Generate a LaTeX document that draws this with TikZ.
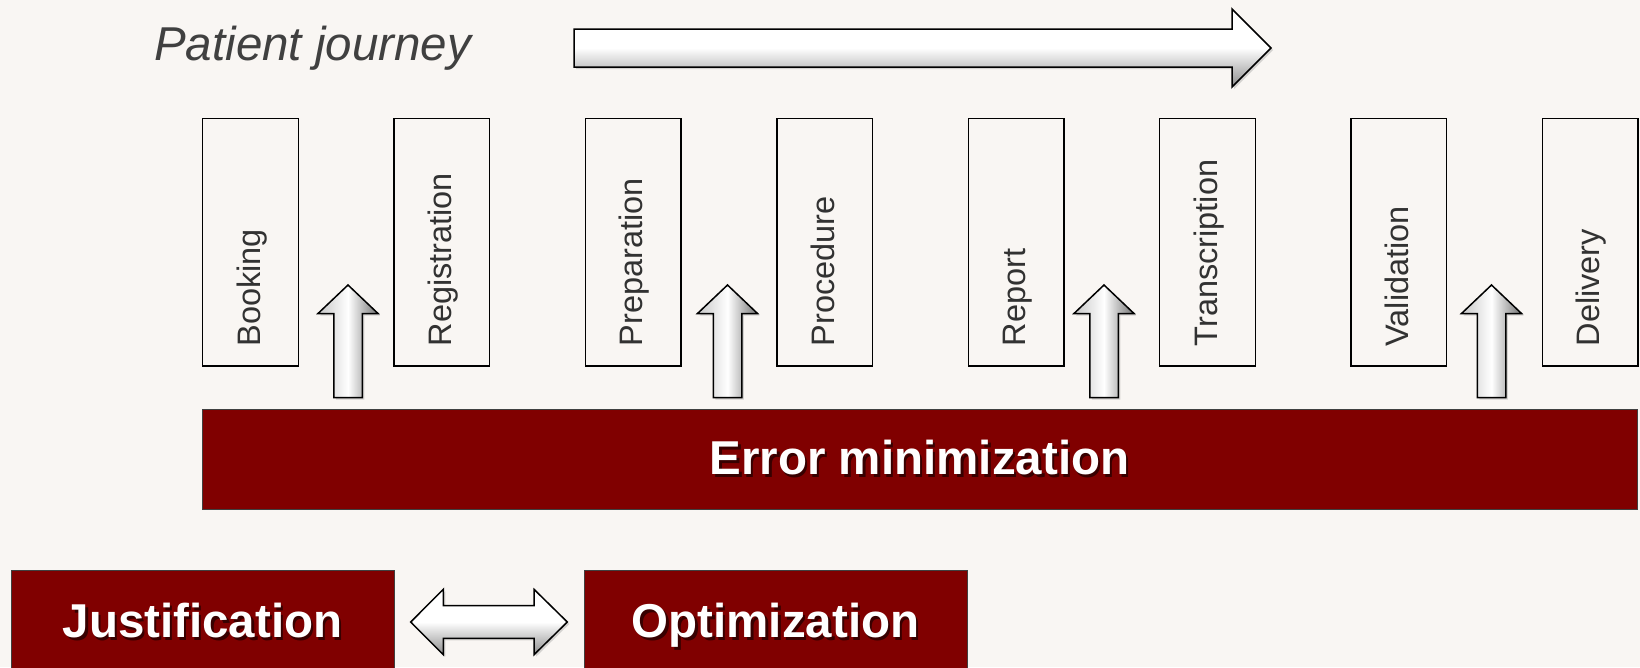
\documentclass[tikz,border=0pt]{standalone}
\usepackage{fontspec}
\setmainfont{Liberation Sans}
\usetikzlibrary{shadows,calc}
\definecolor{bgc}{RGB}{249,246,243}
\definecolor{maroonc}{RGB}{128,0,0}
\definecolor{labelgray}{RGB}{50,50,50}
\definecolor{titlegray}{RGB}{64,64,64}
\definecolor{shadowc}{RGB}{55,0,0}
\newcommand\shadowed[1]{\makebox[0pt][l]{\hspace{2.5pt}\raisebox{-2.5pt}{\textcolor{shadowc}{#1}}}#1}
\tikzset{
  stagebox/.style={draw=black, line width=1.3pt, minimum width=95.6pt, minimum height=247.7pt, inner sep=0pt},
  stagelabel/.style={rotate=90, anchor=west, inner sep=0pt, text height=23pt, text depth=7pt, text=labelgray, font=\fontsize{32.5}{34}\selectfont},
  redbox/.style={fill=maroonc, draw=black!75, line width=1pt, inner sep=0pt, text=white, text height=36pt, text depth=5pt, font=\fontsize{47.5}{50}\selectfont\bfseries},
  arrowthreed/.style={draw=black, line width=1.5pt, line join=miter, drop shadow={opacity=0.3, shadow xshift=2pt, shadow yshift=-2pt}},
  horizshade/.style={top color=white, bottom color=black!45, middle color=white},
  vertshade/.style={left color=black!22, right color=black!55, middle color=white},
}
\newcommand\UpArrow[1]{%
  \draw[arrowthreed, vertshade] (#1,285) -- ({#1+30},313.5) -- ({#1+14.25},313.5) -- ({#1+14.25},397.5)
    -- ({#1-14.25},397.5) -- ({#1-14.25},313.5) -- ({#1-30},313.5) -- cycle;}
\begin{document}
\begin{tikzpicture}[x=1pt,y=-1pt]
\useasboundingbox (0,0) rectangle (1640,667);
\clip (0,0) rectangle (1640,667);
\fill[bgc] (0,0) rectangle (1640,667);

% title
\node[anchor=base west, inner sep=0pt, text=titlegray, font=\fontsize{47.5}{50}\selectfont\itshape] (title) at (154,60) {Patient journey};

% big arrow
\draw[arrowthreed, horizshade] (574,29) -- (1232,29) -- (1232,9) -- (1271,48) -- (1232,87) -- (1232,67) -- (574,67) -- cycle;

% stage boxes
\foreach \i/\t in {0/Booking,1/Registration,2/Preparation,3/Procedure,4/Report,5/Transcription,6/Validation,7/Delivery} {
  \node[stagebox] (s\i) at ({250.5+\i*191.4},242.15) {};
  \node[stagelabel] (l\i) at ($(s\i.south)+(1.5,-20)$) {\t};
}

% up arrows
\UpArrow{348}
\UpArrow{727.5}
\UpArrow{1104}
\UpArrow{1491.5}

% error minimization
\node[redbox, minimum width=1435pt, minimum height=100pt] (err) at (919.5,459) {\shadowed{Error minimization}};

% bottom boxes
\node[redbox, minimum width=383pt, minimum height=104pt] (just) at (202.5,622) {\shadowed{Justification}};
\node[redbox, minimum width=383pt, minimum height=104pt] (opt) at (775.5,622) {\shadowed{Optimization}};

% double arrow
\draw[arrowthreed, horizshade] (410.7,622) -- (443.3,589.3) -- (443.3,605.7) -- (534,605.7) -- (534,589.3) -- (567.3,622)
  -- (534,654.7) -- (534,638.3) -- (443.3,638.3) -- (443.3,654.7) -- cycle;
\end{tikzpicture}
\end{document}
